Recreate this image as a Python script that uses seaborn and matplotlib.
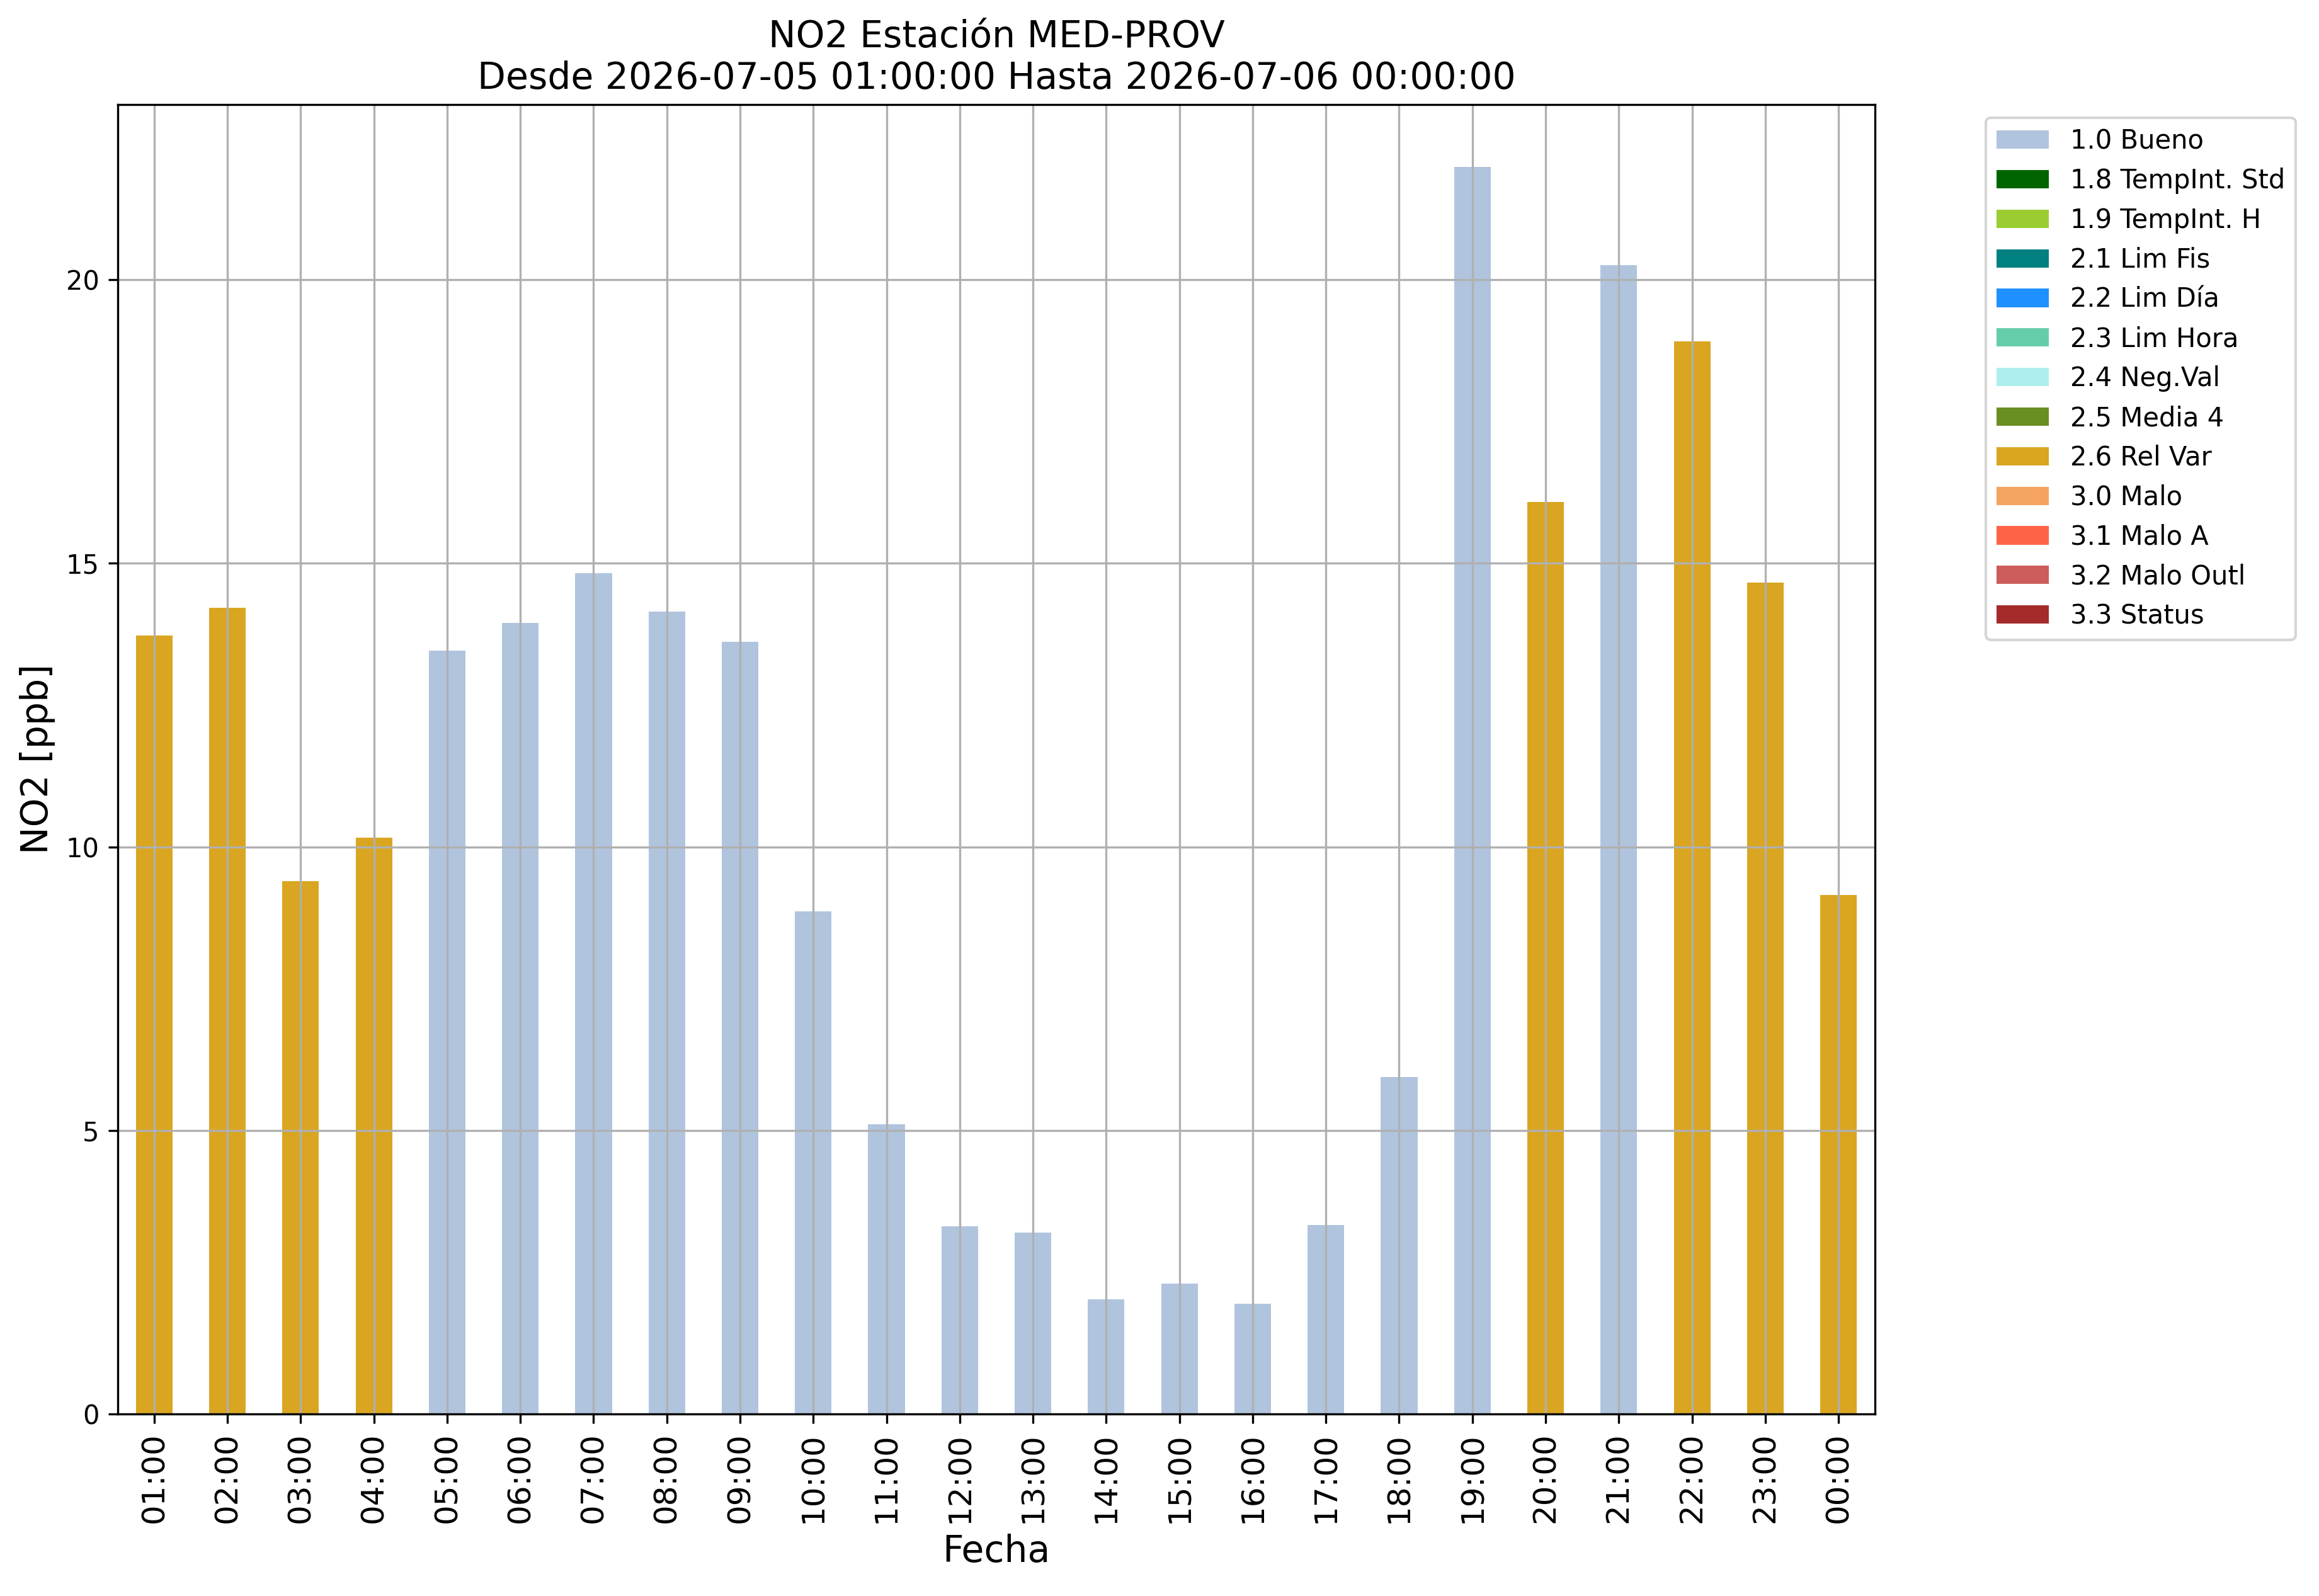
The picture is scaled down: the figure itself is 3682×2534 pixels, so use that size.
import pandas as pd
import matplotlib
matplotlib.use("Agg")
import matplotlib.pyplot as plt
from matplotlib.patches import Patch
import seaborn as sns

# horas y valores de NO2 [ppb]
horas = ["01:00", "02:00", "03:00", "04:00", "05:00", "06:00", "07:00", "08:00",
         "09:00", "10:00", "11:00", "12:00", "13:00", "14:00", "15:00", "16:00",
         "17:00", "18:00", "19:00", "20:00", "21:00", "22:00", "23:00", "00:00"]
valores = [13.73, 14.21, 9.40, 10.16, 13.46, 13.95, 14.83, 14.15,
           13.61, 8.86, 5.11, 3.31, 3.20, 2.02, 2.30, 1.95,
           3.33, 5.94, 21.99, 16.08, 20.25, 18.91, 14.66, 9.15]
banderas = ["2.6 Rel Var", "2.6 Rel Var", "2.6 Rel Var", "2.6 Rel Var",
            "1.0 Bueno", "1.0 Bueno", "1.0 Bueno", "1.0 Bueno",
            "1.0 Bueno", "1.0 Bueno", "1.0 Bueno", "1.0 Bueno",
            "1.0 Bueno", "1.0 Bueno", "1.0 Bueno", "1.0 Bueno",
            "1.0 Bueno", "1.0 Bueno", "1.0 Bueno", "2.6 Rel Var",
            "1.0 Bueno", "2.6 Rel Var", "2.6 Rel Var", "2.6 Rel Var"]

# categorias de validacion y sus colores
etiquetas = ["1.0 Bueno", "1.8 TempInt. Std", "1.9 TempInt. H", "2.1 Lim Fis",
             "2.2 Lim Día", "2.3 Lim Hora", "2.4 Neg.Val", "2.5 Media 4",
             "2.6 Rel Var", "3.0 Malo", "3.1 Malo A", "3.2 Malo Outl", "3.3 Status"]
colores = ["lightsteelblue", "darkgreen", "yellowgreen", "teal",
           "dodgerblue", "mediumaquamarine", "paleturquoise", "olivedrab",
           "goldenrod", "sandybrown", "tomato", "indianred", "brown"]

df = pd.DataFrame({"Fecha": horas, "NO2": valores, "Flag": banderas})
paleta = dict(zip(etiquetas, colores))

fig, ax = plt.subplots(figsize=(3682 / 300, 2534 / 300), dpi=300)
fig.subplots_adjust(left=0.0507, right=0.8086, top=0.9346, bottom=0.114)

sns.barplot(data=df, x="Fecha", y="NO2", hue="Flag", order=horas,
            hue_order=etiquetas, palette=paleta, dodge=False, width=0.5,
            saturation=1, legend=False, ax=ax)

ax.grid(True)
ax.set_xlim(-0.5, len(horas) - 0.5)
ax.set_title("NO2 Estación MED-PROV\nDesde 2026-07-05 01:00:00 Hasta 2026-07-06 00:00:00",
             fontsize=14)
ax.set_xlabel("Fecha", fontsize=14)
ax.set_ylabel("NO2 [ppb]", fontsize=14)
ax.tick_params(axis="x", labelsize=12, labelrotation=90)
ax.tick_params(axis="y", labelsize=10)

handles = [Patch(facecolor=c, label=l) for l, c in zip(etiquetas, colores)]
ax.legend(handles=handles, loc="upper left", bbox_to_anchor=(1.0556, 1),
          fontsize=10)

fig.savefig("out.png", dpi=300)
